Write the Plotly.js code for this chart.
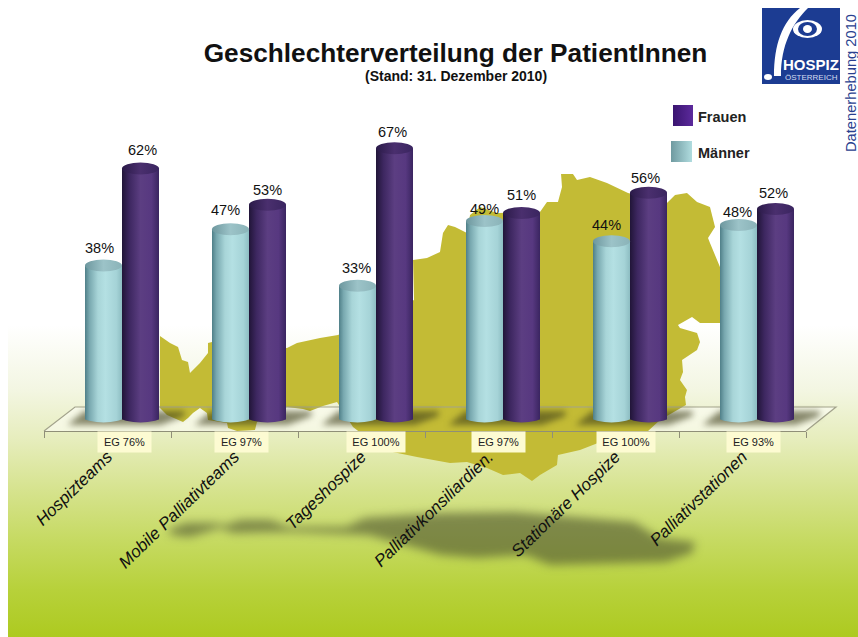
<!DOCTYPE html>
<html>
<head>
<meta charset="utf-8">
<script src="https://cdn.plot.ly/plotly-3.0.1.min.js"></script>
<style>
html,body{margin:0;padding:0;background:#fff;width:858px;height:637px;overflow:hidden}
#bg{position:absolute;left:8px;top:0;width:850px;height:637px;
background:linear-gradient(to bottom,#ffffff 0,#ffffff 325px,#f3f6e2 390px,#e6edbc 440px,#d6e38e 490px,#c6da62 540px,#b7d13a 590px,#adca20 637px)}
#chart{position:absolute;left:0;top:0;width:858px;height:637px}
</style>
</head>
<body>
<div id="bg"></div>
<div id="chart"></div>
<script>
// ---- chart data ----
const categories = ['Hospizteams','Mobile Palliativteams','Tageshospize','Palliativkonsiliardien.','Stationäre Hospize','Palliativstationen'];
const maenner = [38,47,33,49,44,48];
const frauen  = [62,53,67,51,56,52];
const rueckmeldung = ['EG 76%','EG 97%','EG 100%','EG 97%','EG 100%','EG 93%'];

// ---- layout constants ----
const W=858,H=637,L=44,R=806,T=100,B=431;
const pxPerUnit=4.05, base=419.5;
const unit=(R-L)/6, barW=37/unit, menOff=-22.5/unit, womenOff=14.5/unit;
const px=X=>(X-L)/(R-L), py=Y=>(B-Y)/(B-T);
const font='"Liberation Sans",Arial,sans-serif';
const poly=pts=>'M'+pts.map(p=>px(p[0]).toFixed(4)+','+py(p[1]).toFixed(4)).join('L')+'Z';
const paper={xref:'paper',yref:'paper'};
const labelNudgeM=[-4,-5,-1,0,-5,-1], labelNudgeF=[2,0,-2,0,-3,-2];
const labelLiftM=[0,1,0,-6,-2,-5], labelLiftF=[0,-3,-2,0,-3,-2];
const egNudge=[16.5,7,14,10,10,11];

const mapOutline=[[160,336],[170,343],[178,347],[182,360],[188,362],[190,373],[200,363],[208,353],[208,343],[212,342],[287,348],[297,343],[320,338],[338,335],[414,300],[413,260],[427,258],[440,252],[443,233],[448,225],[455,227],[467,233],[470,215],[480,207],[497,213],[540,212],[547,202],[558,202],[562,187],[561,174],[573,174],[577,180],[590,177],[607,183],[628,193],[667,203],[675,195],[687,193],[697,202],[710,207],[715,227],[708,238],[710,243],[720,267],[745,290],[745,323],[720,323],[700,323],[692,317],[678,325],[680,328],[697,333],[700,342],[697,350],[682,360],[683,372],[680,380],[687,390],[685,397],[686,405],[660,420],[648,431],[598,443],[580,450],[558,455],[557,465],[540,475],[532,481],[520,473],[503,475],[487,468],[467,462],[450,463],[417,457],[383,450],[353,427],[337,402],[323,406],[310,411],[303,409],[287,407],[257,422],[255,430],[237,431],[228,428],[227,423],[208,420],[207,413],[200,408],[193,413],[188,418],[183,422],[167,415],[160,408]];
const mapShadow=[[168,530],[186,523],[212,523],[226,525],[241,520],[270,520],[288,527],[346,527],[365,518],[441,513],[514,512],[586,518],[634,522],[659,538],[695,542],[692,553],[666,562],[550,565],[525,555],[477,558],[441,555],[405,545],[368,535],[295,532],[270,532],[234,533],[219,528],[190,537],[172,535]];

const shapes=[];
const tagged={};
function add(s,tag){ if(tag) (tagged[tag]=tagged[tag]||[]).push(shapes.length); shapes.push(s); }

// floor, map, map shadow
add({type:'path',...paper,layer:'below',path:poly([[44,431],[75,407],[836,407],[806,431]]),fillcolor:'rgba(255,255,250,0.55)',line:{width:0}});
add({type:'path',...paper,layer:'below',path:poly(mapShadow),fillcolor:'rgba(70,75,45,0.58)',line:{width:0}},'blur');
add({type:'path',...paper,layer:'below',path:poly(mapOutline),fillcolor:'#c3bb35',line:{width:0}});
add({type:'path',...paper,layer:'below',path:'M'+px(44)+','+py(431)+'L'+px(75)+','+py(407)+'L'+px(836)+','+py(407)+'L'+px(806)+','+py(431),fillcolor:'rgba(0,0,0,0)',line:{color:'#a3a38c',width:1.2}});
// bar contact shadows
categories.forEach((c,i)=>{
  const cx=L+unit*(i+0.5)+15;
  add({type:'path',...paper,layer:'below',path:poly([[cx-55,425],[cx-38,411],[cx+62,411],[cx+62,416],[cx+38,425]]),fillcolor:'rgba(60,60,25,0.6)',line:{width:0}},'blur2');
});
// cylinder caps, drawn from the values
const capH=6/pxPerUnit, footH=4.5/pxPerUnit;
const caps=(vals,off,foot,top)=>vals.forEach((v,i)=>{
  add({type:'circle',xref:'x',yref:'y',layer:'above',x0:i+off,x1:i+off+barW,y0:-footH+0.4,y1:footH+0.4,fillcolor:'#888',line:{width:0}},foot);
  add({type:'circle',xref:'x',yref:'y',layer:'above',x0:i+off,x1:i+off+barW,y0:v-capH,y1:v+capH,fillcolor:'#888',line:{width:0}},top);
});
caps(maenner,menOff,'menBody','menTop');
caps(frauen,womenOff,'womenBody','womenTop');

// legend swatches
add({type:'rect',...paper,x0:px(673),x1:px(693),y0:py(126),y1:py(105),fillcolor:'#4a1f85',line:{width:0}},'swF');
add({type:'rect',...paper,x0:px(671),x1:px(692),y0:py(162),y1:py(141),fillcolor:'#8fbcc2',line:{width:0}},'swM');
// logo
add({type:'rect',...paper,x0:px(762),x1:px(840),y0:py(84),y1:py(8),fillcolor:'#1c3c92',line:{width:0}});
add({type:'path',...paper,path:'M'+px(774)+','+py(76)+'C'+px(774)+','+py(45)+' '+px(782)+','+py(22)+' '+px(800)+','+py(8)+'L'+px(808)+','+py(8)+'C'+px(792)+','+py(24)+' '+px(781)+','+py(45)+' '+px(781)+','+py(76)+'Z',fillcolor:'#fff',line:{width:0}});
add({type:'circle',...paper,x0:px(764),x1:px(772),y0:py(80),y1:py(74),fillcolor:'#fff',line:{width:0}});
add({type:'circle',...paper,x0:px(793),x1:px(822),y0:py(38),y1:py(20),fillcolor:'#fff',line:{width:0}});
add({type:'circle',...paper,x0:px(798),x1:px(817),y0:py(36),y1:py(22),fillcolor:'#1c3c92',line:{width:0}});
add({type:'circle',...paper,x0:px(803),x1:px(812),y0:py(33),y1:py(25),fillcolor:'#fff',line:{width:0}});

// annotations
const annotations=[];
const pct=(vals,off,nudge,lift)=>vals.forEach((v,i)=>annotations.push({
  xref:'x',yref:'y',x:i+off+barW/2,y:v,text:v+'%',showarrow:false,xanchor:'center',yanchor:'middle',
  xshift:nudge[i],yshift:18+lift[i],font:{family:font,size:14.5,color:'#111'}}));
pct(maenner,menOff,labelNudgeM,labelLiftM);
pct(frauen,womenOff,labelNudgeF,labelLiftF);
rueckmeldung.forEach((t,i)=>annotations.push({
  xref:'x',yref:'paper',x:i,y:py(442),xshift:egNudge[i],text:t,showarrow:false,xanchor:'center',yanchor:'middle',
  width:t.length>6?56:51,height:18,bgcolor:'#fdfbd2',font:{family:font,size:11,color:'#222'}}));
const txt=(X,Y,t,size,o)=>annotations.push(Object.assign({...paper,x:px(X),y:py(Y),text:t,showarrow:false,xanchor:'center',yanchor:'middle',font:Object.assign({family:font,size:size,color:'#111'},o&&o.font)},o&&o.a));
txt(696,117,'<b>Frauen</b>',14.5,{a:{xanchor:'left'},font:{color:'#222'}});
txt(696,153,'<b>Männer</b>',14.5,{a:{xanchor:'left'},font:{color:'#222'}});
txt(455.5,76,'<b>(Stand: 31. Dezember 2010)</b>',14);
txt(811,64,'<b>HOSPIZ</b>',15,{font:{color:'#fff'}});
txt(811,77,'ÖSTERREICH',8,{font:{color:'#d5dcf0'}});
txt(851,83,'Datenerhebung 2010',14.7,{a:{textangle:-90},font:{color:'#2a3f8f'}});

const traces=[
  {type:'bar',name:'Männer',x:categories,y:maenner,width:barW,offset:menOff,marker:{color:'#a8d5d8',line:{width:0}},hoverinfo:'x+y'},
  {type:'bar',name:'Frauen',x:categories,y:frauen,width:barW,offset:womenOff,marker:{color:'#54367a',line:{width:0}},hoverinfo:'x+y'}
];
const layout={
  width:W,height:H,autosize:false,showlegend:false,barmode:'overlay',
  paper_bgcolor:'rgba(0,0,0,0)',plot_bgcolor:'rgba(0,0,0,0)',
  margin:{l:L,r:W-R,t:T,b:H-B,pad:0},
  title:{text:'<b>Geschlechterverteilung der PatientInnen</b>',x:455.5/W,xanchor:'center',y:1-53/H,yanchor:'middle',font:{family:font,size:26.2,color:'#111'}},
  xaxis:{type:'category',range:[-0.5,5.5],tickson:'boundaries',ticks:'outside',ticklen:6,tickcolor:'#8f8f78',tickwidth:1,
    showline:true,linecolor:'#8f8f78',linewidth:1.2,showgrid:false,zeroline:false,tickangle:-44,ticklabelstandoff:8,
    tickfont:{family:font,size:17,style:'italic',color:'#111'},automargin:false},
  yaxis:{range:[-(B-base)/pxPerUnit,(base-T)/pxPerUnit],visible:false,fixedrange:true},
  shapes,annotations
};

Plotly.newPlot('chart',traces,layout,{displayModeBar:false,staticPlot:true}).then(gd=>{
  const NS='http://www.w3.org/2000/svg';
  const svg=gd.querySelector('svg.main-svg');
  const defs=document.createElementNS(NS,'defs');
  const grad=(id,stops)=>{
    const g=document.createElementNS(NS,'linearGradient');
    g.id=id;g.setAttribute('x1','0');g.setAttribute('x2','1');g.setAttribute('y1','0');g.setAttribute('y2','0');
    stops.forEach(s=>{const e=document.createElementNS(NS,'stop');e.setAttribute('offset',s[0]);e.setAttribute('stop-color',s[1]);g.appendChild(e);});
    defs.appendChild(g);
  };
  grad('gMen',[[0,'#4f7f88'],[0.12,'#78a8af'],[0.35,'#a8d5d8'],[0.55,'#b4e0e3'],[0.85,'#a5d3d7'],[1,'#8dbdc2']]);
  grad('gWomen',[[0,'#211538'],[0.2,'#3d2760'],[0.5,'#5c3e82'],[0.8,'#573880'],[1,'#3a2560']]);
  grad('gMenTop',[[0,'#6d979e'],[0.5,'#9cc3c8'],[1,'#8ab3b8']]);
  grad('gWomenTop',[[0,'#2a1a48'],[0.5,'#4a2f6e'],[1,'#3a2560']]);
  grad('gSwF',[[0,'#3a1470'],[1,'#5c2a9c']]);
  grad('gSwM',[[0,'#6f9aa0'],[1,'#b0dcdf']]);
  svg.insertBefore(defs,svg.firstChild);
  const traceEls=gd.querySelectorAll('.barlayer .trace');
  traceEls[0].querySelectorAll('path').forEach(p=>p.style.fill='url(#gMen)');
  traceEls[1].querySelectorAll('path').forEach(p=>p.style.fill='url(#gWomen)');
  const paint=(tag,fn)=>(tagged[tag]||[]).forEach(i=>{
    gd.querySelectorAll('path[data-index="'+i+'"]').forEach(fn);
  });
  const fill=(tag,id)=>paint(tag,p=>{p.style.fill='url(#'+id+')';});
  fill('menBody','gMen');fill('womenBody','gWomen');fill('menTop','gMenTop');fill('womenTop','gWomenTop');fill('swF','gSwF');fill('swM','gSwM');
  paint('blur',p=>{p.style.filter='blur(5px)';});
  paint('blur2',p=>{p.style.filter='blur(3px)';});
});
</script>
</body>
</html>
